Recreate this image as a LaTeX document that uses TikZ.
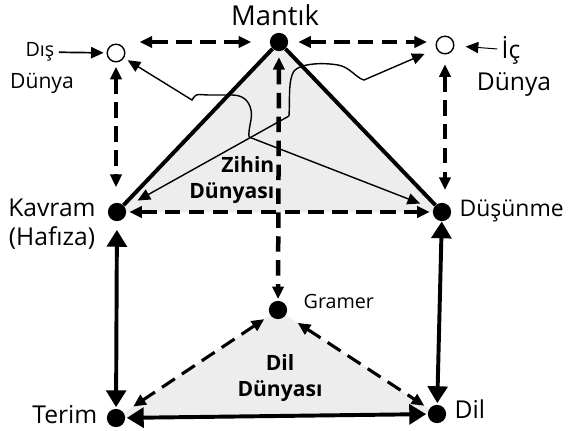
\documentclass[tikz,border=0pt]{standalone}
\usepackage{fontspec}
\setmainfont{Open Sans}
\usetikzlibrary{positioning,calc,arrows.meta,backgrounds}

\tikzset{
  bigtip/.tip={Triangle[width=14pt,length=12pt]},
  dashtip/.tip={Triangle[width=8pt,length=9pt]},
  thintip/.tip={Triangle[width=8pt,length=9pt]},
  dot/.style={circle,fill=black,inner sep=0pt,minimum size=13pt},
  hole/.style={circle,draw,line width=1pt,fill=white,inner sep=0pt,minimum size=12.5pt},
  side/.style={line width=2.8pt},
  solidlink/.style={line width=2.8pt,bigtip-bigtip},
  dashlink/.style={line width=2.5pt,dash pattern=on 11pt off 6pt,dashtip-dashtip},
  thinlink/.style={line width=1pt,-thintip},
  zone/.style={fill=black!7},
  lbl/.style={font=\fontsize{17.5}{21}\selectfont,inner sep=1pt},
  small/.style={font=\fontsize{14}{16}\selectfont,inner sep=1pt},
  world/.style={font=\fontsize{15}{19}\selectfont\bfseries,inner sep=1pt},
}

\begin{document}
\begin{tikzpicture}[x=0.025cm,y=-0.025cm]
  \useasboundingbox (0,0) rectangle (568,430);
  % points
  \node[dot] (mantik) at (279,42) {};
  \node[dot] (kavram) at (117,212) {};
  \node[dot] (dusunme) at (442,212) {};
  \node[dot] (gramer) at (278,310) {};
  \node[dot] (terim) at (116,418) {};
  \node[dot] (dil) at (437,414) {};
  \node[hole] (dis) at (116,53) {};
  \node[hole] (ic) at (445,45) {};
  \begin{scope}[on background layer]
    \fill[zone] (mantik.center) -- (kavram.center) -- (dusunme.center) -- cycle;
    \fill[zone] (gramer.center) -- (terim.center) -- (dil.center) -- cycle;
  \end{scope}

  % labels
  \node[lbl,font=\fontsize{19.5}{22}\selectfont] (mantiklbl) at (275,15) {Mantık};
  \node[lbl,align=center] (kavramlbl) at (52,224) {Kavram\\(Hafıza)};
  \node[lbl,font=\fontsize{16.3}{20}\selectfont,anchor=west] (dusunmelbl) at (458,211) {Düşünme};
  \node[lbl,anchor=east] (terimlbl) at (99,415) {Terim};
  \node[lbl,anchor=west] (dillbl) at (453,409) {Dil};
  \node[small,anchor=west] (gramerlbl) at (302,301) {Gramer};
  \node[small] (dislbl) at (40,52) {Dış};
  \node[small,font=\fontsize{15}{17}\selectfont] (disdunya) at (42,83) {Dünya};
  \node[lbl] (iclbl) at (511,50) {İç};
  \node[lbl] (icdunya) at (514,84) {Dünya};
  \node[world,align=right,anchor=east] (zihin) at (276,180) {Zihin\\Dünyası};
  \node[world,align=center] (dilzone) at (280,378) {Dil\\Dünyası};

  % mind triangle
  \draw[side] (mantik) -- (kavram);
  \draw[side] (mantik) -- (dusunme);
  \draw[dashlink,shorten <=13pt,shorten >=10pt] (mantik) -- (dis.east |- mantik);
  \draw[dashlink,shorten <=7pt,shorten >=6pt] (mantik) -- (ic.west |- mantik);
  \draw[dashlink,shorten <=3pt,shorten >=11pt] (dis) -- (dis |- kavram.north);
  \draw[dashlink,shorten <=7pt,shorten >=9pt] (ic) -- (ic |- dusunme.north);
  \draw[dashlink,shorten <=2pt,shorten >=2pt] (kavram) -- (dusunme);
  \draw[dashlink,line width=3.2pt,shorten <=4pt,shorten >=1pt] (mantik) -- (gramer);

  % language triangle
  \draw[solidlink,shorten <=6pt,shorten >=1pt] (kavram) -- (terim);
  \draw[solidlink,shorten >=1pt] (dusunme) -- (dil);
  \draw[solidlink,shorten <=1pt,shorten >=1pt] (terim) -- (dil);
  \draw[dashlink,line width=2.2pt,shorten <=5pt,shorten >=8pt] (gramer) -- (terim);
  \draw[dashlink,line width=2.2pt,shorten <=10pt,shorten >=4pt] (gramer) -- (dil);

  % thin pointers
  \coordinate (j1) at (249,137);
  \coordinate (j2) at (289,116);
  \draw[thinlink,line width=1.2pt,shorten <=2pt,shorten >=2pt] (dislbl) -- (dis);
  \draw[thinlink,line width=0.7pt,shorten <=2pt,shorten >=8pt] (iclbl) -- (ic);
  \draw[thinlink,shorten >=3pt] (j1) .. controls (248,128) and (253,118) .. (251,110)
    .. controls (249,100) and (242,95) .. (232,95) -- (210,95)
    .. controls (200,95) and (197,93) .. (194,97) -- (192,100) -- (dis);
  \draw[thinlink,shorten >=10pt] (j2) -- (kavram);
  \draw[thinlink,shorten >=10pt] (j1) -- (dusunme);
  \draw[thinlink,shorten >=9pt] (j2) .. controls (290,100) and (288,80) .. (294,71)
    .. controls (300,64) and (320,62) .. (338,65)
    .. controls (350,67) and (356,78) .. (364,80) -- (ic);
\end{tikzpicture}
\end{document}
